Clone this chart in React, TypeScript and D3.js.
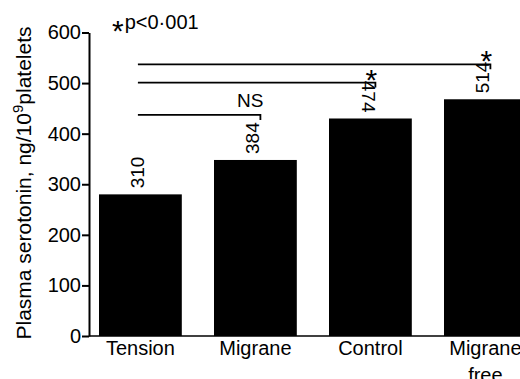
import { useEffect, useRef } from "react";
import * as d3 from "d3";

// ─── Data ───────────────────────────────────────────────────────────────────
const categories = ["Tension", "Migrane", "Control", "Migrane free"];
const serotonin = [280, 348, 430, 468];
const valueLabels = ["310", "384", "474", "514"];
const flippedLabels = ["474"]; // printed the other way round in the original
const yTicks = [0, 100, 200, 300, 400, 500, 600];

// comparisons all start at "Tension"
const comparisonTargets = ["Migrane", "Control", "Migrane free"];
const comparisonLevels = [437, 501, 537];
const comparisonMarks = ["NS", "*", "*"];

const FONT = "'Liberation Sans', Arial, sans-serif";
const W = 520;
const H = 379;

export default function App() {
  const svgRef = useRef<SVGSVGElement>(null);

  useEffect(() => {
    if (!svgRef.current) return;
    const svg = d3.select(svgRef.current);
    svg.selectAll("*").remove();

    const axisX = 89;

    // ── Scales ───────────────────────────────────────────────────────────
    const y = d3.scaleLinear().domain([0, 600]).range([336, 32.5]);
    const x = d3
      .scaleBand<string>()
      .domain(categories)
      .range([87.5, 538.3])
      .paddingInner(0.28)
      .paddingOuter(0.1);
    const bw = x.bandwidth();
    const cx = (c: string) => (x(c) ?? 0) + bw / 2;

    // ── Bars ─────────────────────────────────────────────────────────────
    svg
      .append("g")
      .selectAll("rect")
      .data(categories)
      .join("rect")
      .attr("x", (d) => x(d) ?? 0)
      .attr("y", (_, i) => y(serotonin[i]))
      .attr("width", bw)
      .attr("height", (_, i) => y(0) - y(serotonin[i]))
      .attr("fill", "#000");

    // ── Baseline ─────────────────────────────────────────────────────────
    svg
      .append("line")
      .attr("x1", axisX)
      .attr("x2", W)
      .attr("y1", y(0))
      .attr("y2", y(0))
      .attr("stroke", "#000")
      .attr("stroke-width", 1.5);

    // ── Y axis ───────────────────────────────────────────────────────────
    const yAxis = svg
      .append("g")
      .attr("transform", `translate(${axisX},0)`)
      .call(
        d3
          .axisLeft(y)
          .tickValues(yTicks)
          .tickSizeInner(7)
          .tickSizeOuter(0)
          .tickPadding(1)
          .tickFormat(d3.format("d"))
      )
      .attr("font-size", 20)
      .attr("font-family", FONT);
    yAxis.select(".domain").attr("stroke", "#000").attr("stroke-width", 2);
    yAxis.selectAll(".tick line").attr("stroke", "#000").attr("stroke-width", 2);
    yAxis.selectAll(".tick text").attr("fill", "#000");

    // axis title
    const title = svg
      .append("text")
      .attr("transform", `translate(31,${183}) rotate(-90)`)
      .attr("text-anchor", "middle")
      .attr("font-family", FONT)
      .attr("font-size", 21)
      .attr("fill", "#000");
    title.append("tspan").text("Plasma serotonin, ng/10");
    title.append("tspan").attr("dy", -8).attr("font-size", 15).text("9");
    title.append("tspan").attr("dy", 8).text("platelets");

    // ── Category labels ──────────────────────────────────────────────────
    categories.forEach((c) => {
      const t = svg
        .append("text")
        .attr("text-anchor", "middle")
        .attr("font-family", FONT)
        .attr("font-size", 20)
        .attr("fill", "#000");
      c.split(" ").forEach((word, k) => {
        t.append("tspan")
          .attr("x", cx(c))
          .attr("y", 355 + k * 27)
          .text(word);
      });
    });

    // ── Value labels above bars ──────────────────────────────────────────
    categories.forEach((c, i) => {
      const top = y(serotonin[i]) - 6;
      const flipped = flippedLabels.includes(valueLabels[i]);
      svg
        .append("text")
        .attr(
          "transform",
          flipped
            ? `translate(${cx(c) - 8},${top}) rotate(90)`
            : `translate(${cx(c) + 4},${top}) rotate(-90)`
        )
        .attr("text-anchor", flipped ? "end" : "start")
        .attr("font-family", FONT)
        .attr("font-size", 19)
        .attr("fill", "#000")
        .text(valueLabels[i]);
    });

    // ── Comparison lines ─────────────────────────────────────────────────
    const x1 = cx(categories[0]) - 2.5;
    comparisonTargets.forEach((target, i) => {
      const ly = y(comparisonLevels[i]);
      const x2 = cx(target) + 5;
      svg
        .append("path")
        .attr("d", `M${x1},${ly}H${x2}v5`)
        .attr("fill", "none")
        .attr("stroke", "#000")
        .attr("stroke-width", 1.8);

      const mark = comparisonMarks[i];
      if (mark === "NS") {
        svg
          .append("text")
          .attr("x", x2 + 3)
          .attr("y", ly - 8)
          .attr("text-anchor", "end")
          .attr("font-family", FONT)
          .attr("font-size", 19)
          .attr("fill", "#000")
          .text(mark);
      } else {
        svg
          .append("text")
          .attr("x", x2 - 4)
          .attr("y", ly - 10 + 17)
          .attr("text-anchor", "middle")
          .attr("font-family", FONT)
          .attr("font-size", 30)
          .attr("fill", "#000")
          .text(mark);
      }
    });

    // ── Significance note ────────────────────────────────────────────────
    const note = svg
      .append("text")
      .attr("x", 112)
      .attr("y", 28.5)
      .attr("font-family", FONT)
      .attr("font-size", 20)
      .attr("fill", "#000");
    note.append("tspan").attr("font-size", 30).attr("dy", 12).text("*");
    note.append("tspan").attr("dy", -12).attr("dx", 1).text("p<0·001");
  }, []);

  return (
    <svg
      ref={svgRef}
      width={W}
      height={H}
      viewBox={`0 0 ${W} ${H}`}
      style={{ position: "absolute", left: 0, top: 0, background: "#fff" }}
    />
  );
}
